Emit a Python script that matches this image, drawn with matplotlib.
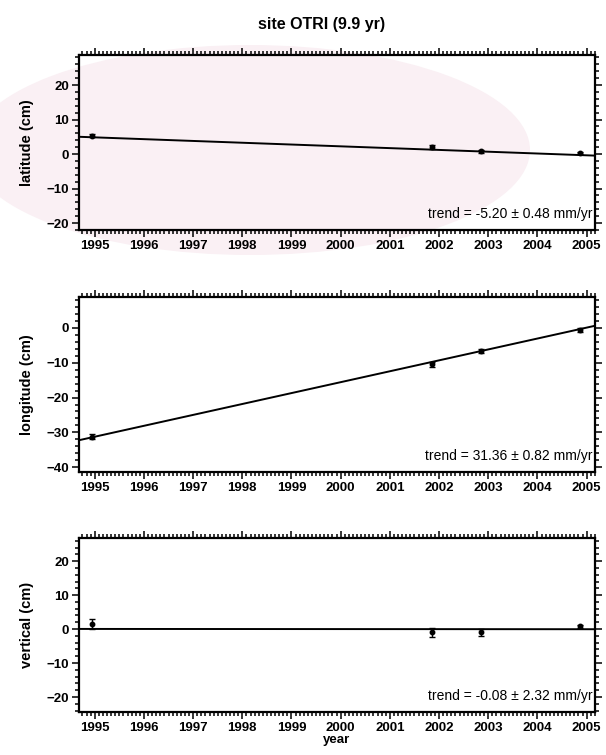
import matplotlib
matplotlib.use("Agg")
import matplotlib.pyplot as plt
from matplotlib.patches import Ellipse
from matplotlib.ticker import MultipleLocator
import numpy as np

plt.rcParams['font.family'] = ['Liberation Sans', 'DejaVu Sans']

# --- data -------------------------------------------------------------
site = "OTRI"
span_yr = 9.9
epochs = [1994.95, 2001.85, 2002.85, 2004.87]

lat_cm = [5.3, 2.0, 0.8, 0.3]
lat_err = [0.5, 0.5, 0.5, 0.4]
lon_cm = [-31.2, -10.5, -6.7, -0.6]
lon_err = [0.6, 0.6, 0.6, 0.5]
vert_cm = [1.5, -1.0, -1.0, 0.8]
vert_err = [1.5, 1.2, 1.0, 0.5]

# trend rates (mm/yr) with sigma, and fitted value at 2000.0 (cm)
lat_rate, lat_sig, lat_off = -5.20, 0.48, 2.24
lon_rate, lon_sig, lon_off = 31.36, 0.82, -15.58
vert_rate, vert_sig, vert_off = -0.08, 2.32, 0.0

year_ticks = list(range(1995, 2006))
lat_ticks = [-20, -10, 0, 10, 20]
lon_ticks = [-40, -30, -20, -10, 0]
vert_ticks = [-20, -10, 0, 10, 20]

# --- figure -----------------------------------------------------------
W, H = 606, 755
fig = plt.figure(figsize=(W / 100, H / 100), dpi=100)

# faint background tint behind the top panel
bg = fig.add_axes([0, 0, 1, 1], zorder=-5)
bg.set_xlim(0, W)
bg.set_ylim(H, 0)
bg.axis('off')
bg.add_patch(Ellipse((250, 150), 560, 210, color='#faf0f4', lw=0))

panels = [
    dict(rect=[79 / W, 1 - 230 / H, 516 / W, 175 / H], y=lat_cm, e=lat_err,
         rate=lat_rate, sig=lat_sig, off=lat_off, ylim=(-22.0, 28.7),
         ticks=lat_ticks, label="latitude (cm)"),
    dict(rect=[79 / W, 1 - 472 / H, 516 / W, 175 / H], y=lon_cm, e=lon_err,
         rate=lon_rate, sig=lon_sig, off=lon_off, ylim=(-41.4, 8.9),
         ticks=lon_ticks, label="longitude (cm)"),
    dict(rect=[79 / W, 1 - 712 / H, 516 / W, 174 / H], y=vert_cm, e=vert_err,
         rate=vert_rate, sig=vert_sig, off=vert_off, ylim=(-24.4, 26.8),
         ticks=vert_ticks, label="vertical (cm)"),
]

xlim = (1994.68, 2005.17)
tline = np.array(xlim)

for i, p in enumerate(panels):
    ax = fig.add_axes(p['rect'])
    ax.patch.set_alpha(0)
    ax.set_xlim(*xlim)
    ax.set_ylim(*p['ylim'])

    fit = p['off'] + p['rate'] / 10.0 * (tline - 2000.0)
    ax.plot(tline, fit, color='black', lw=1.4, zorder=2)
    ax.errorbar(epochs, p['y'], yerr=p['e'], fmt='o', ms=3.2, color='black',
                ecolor='black', elinewidth=1.0, capsize=2.5, capthick=1.0,
                zorder=3)

    ax.set_xticks(year_ticks)
    ax.set_xticklabels([str(y) for y in year_ticks])
    ax.xaxis.set_minor_locator(MultipleLocator(1 / 12))
    ax.set_yticks(p['ticks'])
    ax.yaxis.set_minor_locator(MultipleLocator(2))
    ax.tick_params(which='both', direction='out', top=True, right=True,
                   labeltop=False, labelright=False, width=1.1,
                   labelsize=9.5, pad=2)
    ax.tick_params(which='major', length=5)
    ax.tick_params(which='minor', length=3)
    for lbl in ax.get_xticklabels() + ax.get_yticklabels():
        lbl.set_fontweight('bold')
    for s in ax.spines.values():
        s.set_linewidth(1.6)

    ax.set_ylabel(p['label'], fontsize=10.5, labelpad=9, fontweight='bold')
    ax.text(0.995, 0.05,
            f"trend = {p['rate']:.2f} \u00b1 {p['sig']:.2f} mm/yr",
            transform=ax.transAxes, ha='right', va='bottom', fontsize=10)
    if i == 2:
        ax.set_xlabel("year", fontsize=9.5, labelpad=0, fontweight='bold')

fig.text(0.53, 1 - 25 / H, f"site {site} ({span_yr} yr)", ha='center',
         va='center', fontsize=11.5, fontweight='bold')

fig.savefig("out.png", dpi=100)
